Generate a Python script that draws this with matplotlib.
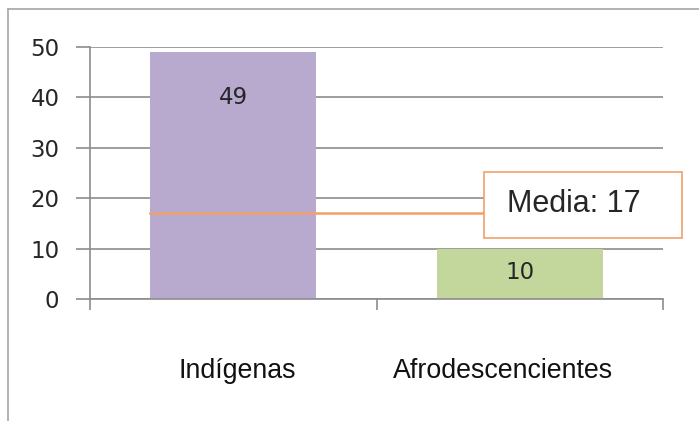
import matplotlib
matplotlib.use('Agg')
import matplotlib.pyplot as plt
from matplotlib.patches import Rectangle
from matplotlib.lines import Line2D

categories = ['Indígenas', 'Afrodescencientes']
values = [49, 10]
media = 17
y_ticks = [0, 10, 20, 30, 40, 50]

bar_colors = ['#b8aacf', '#c3d69b']
grid_color = '#8c8c8c'
orange = '#f0a068'


def main():
    fig = plt.figure(figsize=(6.99, 4.21), dpi=100)
    W, H = 699.0, 421.0

    # outer frame (top and left edges only)
    fig.add_artist(Line2D([8 / W, 1.0], [1 - 9 / H, 1 - 9 / H], color='#a6a6a6', lw=1.2))
    fig.add_artist(Line2D([8 / W, 8 / W], [0, 1 - 9 / H], color='#a6a6a6', lw=1.2))

    ax = fig.add_axes([90 / W, 122 / H, 573 / W, 252 / H])
    x = list(range(len(categories)))
    ax.bar(x, values, width=0.58, color=bar_colors, zorder=2)

    ax.set_xlim(-0.5, len(categories) - 0.5)
    ax.set_ylim(0, 50)
    ax.set_yticks(y_ticks)
    ax.set_yticklabels([str(t) for t in y_ticks], fontsize=16.5, family='DejaVu Sans', color='#262626')
    ax.yaxis.grid(True, color=grid_color, lw=1.2, zorder=1)
    ax.set_axisbelow(True)

    # category boundary ticks on the x axis
    ax.set_xticks([i - 0.5 for i in range(len(categories) + 1)])
    ax.set_xticklabels([])
    ax.tick_params(axis='x', direction='out', length=8, color=grid_color, width=1.2)
    ax.tick_params(axis='y', direction='out', length=10, color=grid_color, width=1.2, pad=12)

    for side in ['top', 'right']:
        ax.spines[side].set_visible(False)
    for side in ['left', 'bottom']:
        ax.spines[side].set_color(grid_color)
        ax.spines[side].set_linewidth(1.2)

    # value labels inside the bars
    offsets = [-33, -17]
    for i, v in enumerate(values):
        ax.annotate(str(v), (i, v), xytext=(0, offsets[i]), textcoords='offset points',
                    ha='center', va='center', fontsize=16.5, color='#262626',
                    family='DejaVu Sans', zorder=4)

    # category names below the axis
    shifts = [3, -12]
    for i, c in enumerate(categories):
        ax.annotate(c, (i, 0), xytext=(shifts[i], -52), textcoords='offset points',
                    ha='center', va='center', fontsize=19.3, family='Liberation Sans',
                    color='#111111', annotation_clip=False)

    # mean line with callout box
    box_x0, box_x1 = 0.876, 1.567
    box_y0, box_y1 = 12.2, 25.2
    ax.plot([-0.29, box_x0], [media, media], color=orange, lw=1.8, zorder=3)
    ax.add_patch(Rectangle((box_x0, box_y0), box_x1 - box_x0, box_y1 - box_y0,
                           facecolor='white', edgecolor=orange, lw=1.2,
                           zorder=5, clip_on=False))
    ax.text(1.19, 18.9, 'Media: %d' % media, ha='center', va='center',
            fontsize=22, family='Liberation Sans', color='#262626', zorder=6, clip_on=False)

    fig.savefig('out.png', dpi=100)


if __name__ == '__main__':
    main()
